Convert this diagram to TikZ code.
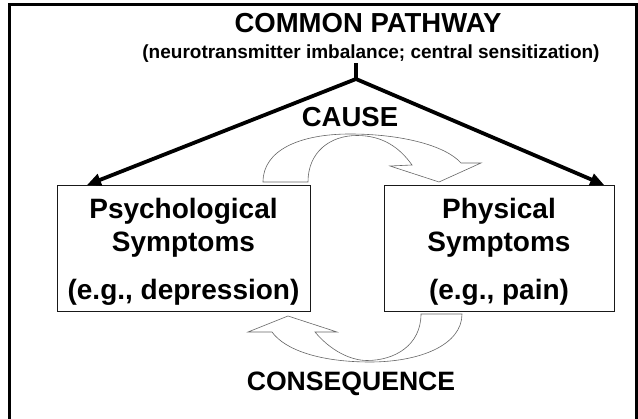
\documentclass[tikz,border=0pt]{standalone}
\usepackage{fontspec}
\setmainfont{Liberation Sans}
\usetikzlibrary{arrows.meta}
\begin{document}
\begin{tikzpicture}[x=1pt,y=-1pt,
  txt/.style={inner sep=0pt, anchor=base, font=\bfseries\fontsize{#1}{#1}\selectfont},
  box/.style={draw=black!90, line width=1.2pt, anchor=north west, inner sep=0pt, minimum height=126pt},
  roof/.style={line width=3.8pt, line join=miter, {Triangle[length=14pt,width=12pt]}-{Triangle[length=14pt,width=12pt]}},
  stem/.style={line width=3.8pt},
  curved/.style={draw=black!60, fill=white, line width=0.6pt, line join=miter}]
\clip (0,0) rectangle (638,419);
\fill[white] (0,0) rectangle (638,419);
\draw[line width=3pt] (9.5,5) rectangle (636.5,440);

% boxes
\node[box, minimum width=253pt] (psy) at (57,185) {};
\node[box, minimum width=230pt] (phy) at (384,185) {};

% texts
\node[txt=27.5] (title) at (368,32.5) {COMMON PATHWAY};
\node[txt=19] (sub) at (371,59) {(neurotransmitter imbalance; central sensitization)};
\node[txt=27.5] (cause) at (350,127) {CAUSE};
\node[txt=26.6] (conseq) at (351,391) {CONSEQUENCE};
\node[txt=28] (psyA) at (183.5,219) {Psychological};
\node[txt=28] (psyB) at (183.5,252) {Symptoms};
\node[txt=28] (psyC) at (183.5,300) {(e.g., depression)};
\node[txt=28] (phyA) at (499,219) {Physical};
\node[txt=28] (phyB) at (499,252) {Symptoms};
\node[txt=28] (phyC) at (499,300) {(e.g., pain)};

% curved block arrows
\draw[curved] (263,182) .. controls (263,150) and (300,134) .. (350,134)
  .. controls (400,134) and (445,145) .. (461,163) -- (481,163) -- (439,182)
  -- (390,166) -- (412,165) .. controls (400,148) and (383,135.5) .. (357,135.5)
  .. controls (330,135.5) and (308,152) .. (308,182) -- cycle;
\draw[curved] (462,314) .. controls (462,345) and (420,362) .. (370,362)
  .. controls (320,362) and (285,350) .. (272,332) -- (248,332) -- (288,316)
  -- (337,332) -- (315,332) .. controls (330,350) and (350,360.5) .. (367,360.5)
  .. controls (395,360.5) and (421,345) .. (421,314) -- cycle;

% connectors
\coordinate (peak) at (356,79);
\coordinate (tipL) at ([xshift=30pt]psy.north west);
\coordinate (tipR) at ([xshift=-11pt]phy.north east);
\draw[stem] (sub.south -| peak) -- (peak);
\draw[roof] (tipL) -- (peak) -- (tipR);
\end{tikzpicture}
\end{document}
